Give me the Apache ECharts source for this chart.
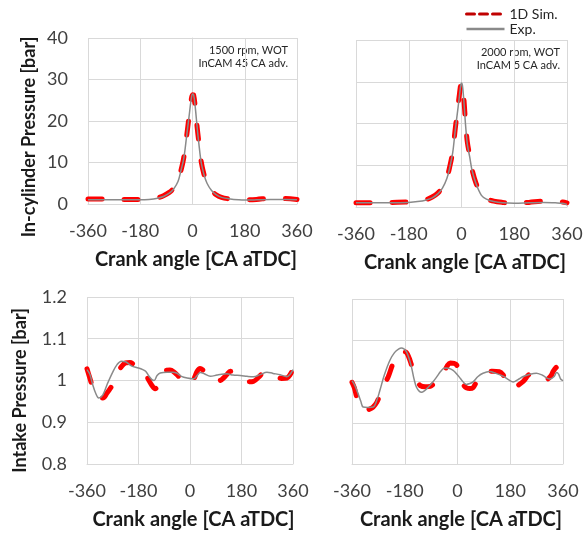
<!DOCTYPE html>
<html>
<head>
<meta charset="utf-8">
<script src="https://cdn.jsdelivr.net/npm/echarts@6/dist/echarts.min.js"></script>
<style>
  html, body { margin: 0; padding: 0; background: #fff; }
  #chart { width: 586px; height: 538px; }
</style>
</head>
<body>
<div id="chart"></div>
<script>
// Crank-angle axis ticks shared by all four panels
const crankTicks = [-360, -180, 0, 180, 360];

// In-cylinder pressure, 1500 rpm WOT, InCAM 45 CA adv. [CA aTDC, bar]
const cyl1500Sim = [
  [-360, 1.2], [-300, 1.2], [-240, 1.1], [-180, 1.1], [-150, 1.2], [-120, 1.5], [-100, 2.0],
  [-80, 2.8], [-65, 3.8], [-50, 5.6], [-40, 8.0], [-30, 11.2], [-20, 16.5], [-12, 21.0],
  [-5, 24.8], [0, 26.3], [4, 26.2], [10, 23.0], [16, 18.5], [22, 14.8], [30, 10.2],
  [40, 7.0], [50, 5.0], [65, 3.3], [80, 2.3], [100, 1.6], [130, 1.2], [160, 1.0],
  [180, 1.0], [220, 1.1], [270, 1.4], [320, 1.3], [360, 1.1]
];
const cyl1500Exp = [
  [-360, 1.0], [-300, 1.0], [-240, 1.0], [-180, 1.0], [-150, 1.1], [-120, 1.4], [-100, 1.8],
  [-80, 2.6], [-65, 3.6], [-50, 5.4], [-40, 8.0], [-30, 11.0], [-20, 16.5], [-12, 21.0],
  [-5, 25.0], [0, 26.5], [4, 26.3], [10, 23.0], [16, 18.5], [22, 14.5], [30, 10.0],
  [40, 7.0], [50, 5.0], [65, 3.3], [80, 2.3], [100, 1.6], [130, 1.2], [160, 1.0],
  [180, 0.95], [220, 1.0], [270, 1.1], [320, 1.1], [360, 1.0]
];

// In-cylinder pressure, 2000 rpm WOT, InCAM 5 CA adv.
const cyl2000Sim = [
  [-360, 1.0], [-300, 1.0], [-240, 1.1], [-180, 1.2], [-150, 1.4], [-120, 1.8], [-100, 2.4],
  [-80, 3.4], [-65, 4.7], [-50, 7.0], [-40, 9.7], [-30, 13.3], [-22, 18.3], [-15, 22.5],
  [-8, 26.5], [-3, 29.2], [0, 29.8], [3, 29.3], [8, 26.0], [14, 20.0], [20, 15.5],
  [28, 12.3], [36, 9.0], [50, 5.6], [68, 2.9], [85, 2.0], [110, 1.4], [140, 1.1],
  [180, 0.9], [230, 1.1], [280, 1.4], [320, 1.4], [345, 1.2], [360, 1.0]
];
const cyl2000Exp = [
  [-360, 1.0], [-300, 1.0], [-240, 1.0], [-180, 1.1], [-150, 1.3], [-120, 1.7], [-100, 2.2],
  [-80, 3.2], [-65, 4.5], [-50, 6.8], [-40, 9.5], [-30, 13.0], [-22, 18.0], [-15, 22.0],
  [-8, 26.0], [-3, 29.0], [0, 29.7], [3, 29.2], [8, 25.5], [14, 19.5], [20, 15.0],
  [28, 12.0], [36, 8.8], [50, 5.5], [68, 2.8], [85, 1.9], [110, 1.3], [140, 1.0],
  [180, 0.9], [230, 1.0], [280, 1.1], [320, 1.0], [345, 0.9], [360, 0.6]
];

// Intake pressure, 1500 rpm
const int1500Sim = [
  [-360, 1.028], [-352, 1.010], [-343, 0.990], [-333, 0.968], [-320, 0.958], [-305, 0.958],
  [-290, 0.970], [-275, 0.985], [-265, 0.996], [-255, 1.015], [-240, 1.033], [-225, 1.042],
  [-210, 1.043], [-195, 1.038], [-180, 1.032], [-168, 1.028], [-155, 1.015], [-145, 1.002],
  [-133, 0.988], [-122, 0.980], [-112, 0.990], [-100, 1.015], [-88, 1.024], [-70, 1.025],
  [-55, 1.020], [-40, 1.010], [-25, 1.000], [-12, 0.995], [5, 0.994], [15, 1.006],
  [25, 1.022], [35, 1.029], [45, 1.025], [59, 1.014], [75, 1.003], [90, 0.999], [105, 1.000],
  [117, 1.006], [130, 1.015], [141, 1.022], [155, 1.020], [170, 1.010], [187, 1.000],
  [205, 0.997], [222, 0.998], [240, 1.008], [257, 1.019], [275, 1.021], [290, 1.016],
  [304, 1.010], [320, 1.005], [339, 1.006], [350, 1.014], [360, 1.028]
];
const int1500Exp = [
  [-360, 1.026], [-350, 1.015], [-340, 0.990], [-330, 0.970], [-319, 0.958], [-305, 0.965],
  [-290, 0.990], [-270, 1.020], [-255, 1.038], [-240, 1.046], [-225, 1.045], [-205, 1.035],
  [-180, 1.030], [-165, 1.026], [-155, 1.022], [-145, 1.012], [-133, 1.002], [-125, 1.000],
  [-115, 1.012], [-104, 1.018], [-80, 1.020], [-60, 1.020], [-47, 1.018], [-30, 1.010],
  [-10, 1.006], [13, 1.004], [25, 1.012], [36, 1.019], [50, 1.016], [71, 1.010], [94, 1.013],
  [110, 1.015], [129, 1.016], [150, 1.013], [176, 1.012], [200, 1.010], [222, 1.009],
  [245, 1.014], [269, 1.020], [290, 1.017], [315, 1.014], [338, 1.009], [350, 1.015],
  [360, 1.026]
];

// Intake pressure, 2000 rpm
const int2000Sim = [
  [-360, 0.998], [-352, 0.985], [-345, 0.965], [-335, 0.945], [-325, 0.933], [-315, 0.930],
  [-300, 0.933], [-288, 0.938], [-275, 0.950], [-263, 0.970], [-252, 0.990], [-236, 1.012],
  [-222, 1.040], [-208, 1.062], [-195, 1.072], [-185, 1.073], [-174, 1.070], [-165, 1.057],
  [-157, 1.040], [-150, 1.025], [-143, 1.015], [-135, 1.000], [-127, 0.990], [-110, 0.987],
  [-93, 0.988], [-80, 0.995], [-65, 1.005], [-48, 1.020], [-35, 1.038], [-25, 1.045],
  [-12, 1.044], [-3, 1.040], [6, 1.025], [14, 1.000], [22, 0.990], [30, 0.985], [42, 0.983],
  [53, 0.985], [64, 0.998], [78, 1.015], [98, 1.024], [120, 1.025], [143, 1.024],
  [160, 1.012], [173, 1.000], [190, 0.985], [205, 0.990], [224, 1.000], [247, 1.018],
  [269, 1.020], [285, 1.014], [304, 1.005], [318, 1.013], [327, 1.025], [338, 1.035],
  [344, 1.036], [352, 1.020], [360, 1.000]
];
const int2000Exp = [
  [-360, 1.002], [-350, 0.990], [-339, 0.970], [-330, 0.952], [-322, 0.938], [-305, 0.937],
  [-288, 0.938], [-275, 0.955], [-265, 0.978], [-250, 1.015], [-231, 1.051], [-215, 1.070],
  [-200, 1.079], [-191, 1.081], [-183, 1.079], [-174, 1.072], [-165, 1.055], [-157, 1.035],
  [-148, 1.005], [-140, 0.986], [-130, 0.976], [-123, 0.974], [-112, 0.978], [-100, 0.986],
  [-85, 0.998], [-72, 1.010], [-58, 1.024], [-44, 1.033], [-30, 1.032], [-15, 1.027],
  [-5, 1.020], [7, 1.010], [18, 1.000], [30, 0.993], [42, 0.995], [53, 0.999], [70, 1.012],
  [87, 1.020], [110, 1.024], [130, 1.020], [155, 1.013], [175, 1.004], [190, 0.999],
  [205, 1.004], [224, 1.012], [245, 1.017], [269, 1.020], [290, 1.015], [315, 1.006],
  [330, 1.012], [338, 1.022], [345, 1.018], [352, 1.006], [360, 1.002]
];

const FONT = 'Lato, "Open Sans", sans-serif';
const GRID_COLOR = '#d9d9d9';
const SIM_COLOR = '#ff0000';
const EXP_COLOR = '#8a8a8a';

const grids = [
  { left: 88, top: 38, width: 209, height: 166 },
  { left: 356, top: 40, width: 211, height: 167 },
  { left: 87, top: 297, width: 206, height: 167 },
  { left: 352, top: 299, width: 211, height: 165 }
];

function xAxisFor(i) {
  return {
    gridIndex: i,
    type: 'value',
    min: crankTicks[0],
    max: crankTicks[crankTicks.length - 1],
    interval: crankTicks[1] - crankTicks[0],
    axisLine: { show: true, lineStyle: { color: GRID_COLOR } },
    axisTick: { show: false },
    splitLine: { show: true, lineStyle: { color: GRID_COLOR, width: 1 } },
    axisLabel: { fontSize: 18, color: '#404040', margin: 18, fontFamily: FONT },
    name: 'Crank angle [CA aTDC]',
    nameLocation: 'middle',
    nameGap: 46,
    nameTextStyle: {
      fontSize: 20, fontWeight: 'bold', color: '#1a1a1a', fontFamily: FONT,
      padding: [0, 0, 0, 7]
    }
  };
}

function yAxisFor(i, min, max, interval, name, showLabels, gap, shift) {
  return {
    gridIndex: i,
    type: 'value',
    min: min,
    max: max,
    interval: interval,
    axisLine: { show: true, lineStyle: { color: GRID_COLOR } },
    axisTick: { show: false },
    splitLine: { show: true, lineStyle: { color: GRID_COLOR, width: 1 } },
    axisLabel: { show: showLabels, fontSize: 18, color: '#404040', margin: 20, fontFamily: FONT },
    name: name,
    nameLocation: 'middle',
    nameGap: gap,
    nameTextStyle: {
      fontSize: 18, fontWeight: 'bold', color: '#1a1a1a', fontFamily: FONT,
      padding: [0, shift, 0, 0]
    }
  };
}

function simSeries(i, data) {
  return {
    name: '1D Sim.', type: 'line', xAxisIndex: i, yAxisIndex: i, data: data,
    smooth: 0.35, symbol: 'none', z: 2,
    lineStyle: { color: SIM_COLOR, width: 5, type: [14, 22], cap: 'round', join: 'round' },
    itemStyle: { color: SIM_COLOR }
  };
}
function expSeries(i, data) {
  return {
    name: 'Exp.', type: 'line', xAxisIndex: i, yAxisIndex: i, data: data,
    smooth: 0.35, symbol: 'none', z: 3,
    lineStyle: { color: EXP_COLOR, width: 1.5 },
    itemStyle: { color: EXP_COLOR }
  };
}

const option = {
  animation: false,
  backgroundColor: '#ffffff',
  grid: grids,
  xAxis: [xAxisFor(0), xAxisFor(1), xAxisFor(2), xAxisFor(3)],
  yAxis: [
    yAxisFor(0, 0, 40, 10, 'In-cylinder Pressure [bar]', true, 50, 32),
    yAxisFor(1, 0, 40, 10, '', false, 50, 0),
    yAxisFor(2, 0.8, 1.2, 0.1, 'Intake Pressure [bar]', true, 58, 20),
    yAxisFor(3, 0.8, 1.2, 0.1, '', false, 50, 0)
  ],
  legend: {
    orient: 'vertical',
    left: 460,
    top: 2,
    itemWidth: 38,
    itemHeight: 12,
    itemGap: 1,
    textStyle: { fontSize: 14, color: '#262626', fontFamily: FONT },
    data: [
      { name: '1D Sim.', lineStyle: { color: '#c00000', width: 3, type: [8, 5] },
        itemStyle: { opacity: 0 } },
      { name: 'Exp.', lineStyle: { color: '#8a8a8a', width: 2.5 },
        itemStyle: { opacity: 0 } }
    ]
  },
  graphic: [
    { type: 'text', right: 586 - 288, top: 45,
      style: { text: '1500 rpm, WOT', fontSize: 11, fill: '#262626', fontFamily: FONT, align: 'right' } },
    { type: 'text', right: 586 - 288, top: 58,
      style: { text: 'InCAM 45 CA adv.', fontSize: 11, fill: '#262626', fontFamily: FONT, align: 'right' } },
    { type: 'text', right: 586 - 560, top: 47,
      style: { text: '2000 rpm, WOT', fontSize: 11, fill: '#262626', fontFamily: FONT, align: 'right' } },
    { type: 'text', right: 586 - 560, top: 60,
      style: { text: 'InCAM 5 CA adv.', fontSize: 11, fill: '#262626', fontFamily: FONT, align: 'right' } }
  ],
  series: [
    simSeries(0, cyl1500Sim), expSeries(0, cyl1500Exp),
    simSeries(1, cyl2000Sim), expSeries(1, cyl2000Exp),
    simSeries(2, int1500Sim), expSeries(2, int1500Exp),
    simSeries(3, int2000Sim), expSeries(3, int2000Exp)
  ]
};

const chart = echarts.init(document.getElementById('chart'), null, { renderer: 'canvas' });
chart.setOption(option);
</script>
</body>
</html>
